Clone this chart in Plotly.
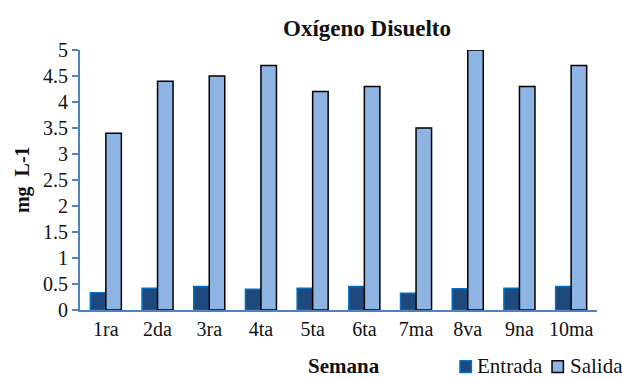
import plotly.graph_objects as go

semanas = ["1ra", "2da", "3ra", "4ta", "5ta", "6ta", "7ma", "8va", "9na", "10ma"]
entrada = [0.33, 0.42, 0.45, 0.40, 0.42, 0.45, 0.32, 0.41, 0.42, 0.45]
salida = [3.4, 4.4, 4.5, 4.7, 4.2, 4.3, 3.5, 5.0, 4.3, 4.7]

serif = "Liberation Serif"
axis_color = "#4F81BD"
text_color = "#111111"

entrada_style = dict(color="#1F497D", line=dict(color="#0070C0", width=1.5))
salida_style = dict(color="#8EB4E3", line=dict(color="#000000", width=1.5))

fig = go.Figure()
fig.add_trace(go.Bar(x=semanas, y=entrada, name="Entrada", marker=entrada_style))
fig.add_trace(go.Bar(x=semanas, y=salida, name="Salida", marker=salida_style))

# compact legend below the plot: key squares + labels
legend_y0, legend_y1, legend_mid = -0.24, -0.195, -0.217
legend_items = [
    ("Entrada", entrada_style, 0.735, 0.757, 0.764),
    ("Salida", salida_style, 0.913, 0.935, 0.944),
]
shapes = []
annotations = []
for label, style, kx0, kx1, tx in legend_items:
    shapes.append(dict(
        type="rect", xref="paper", yref="paper",
        x0=kx0, x1=kx1, y0=legend_y0, y1=legend_y1,
        fillcolor=style["color"],
        line=dict(color=style["line"]["color"], width=1.5),
    ))
    annotations.append(dict(
        text=label, xref="paper", yref="paper", x=tx, y=legend_mid,
        xanchor="left", yanchor="middle", showarrow=False,
        font=dict(family=serif, size=21, color=text_color),
    ))

annotations += [
    dict(text="<b>Oxígeno Disuelto</b>", xref="paper", yref="paper",
         x=0.555, y=1.0, yshift=22, xanchor="center", yanchor="middle",
         showarrow=False,
         font=dict(family=serif, size=23, color=text_color)),
    dict(text="<b>Semana</b>", xref="paper", yref="paper",
         x=0.51, y=legend_mid, xanchor="center", yanchor="middle",
         showarrow=False,
         font=dict(family=serif, size=21, color=text_color)),
    dict(text="<b>mg  L-1</b>", xref="paper", yref="paper",
         x=-0.112, y=0.5, xanchor="center", yanchor="middle",
         textangle=-90, showarrow=False,
         font=dict(family=serif, size=20, color=text_color)),
]

fig.update_layout(
    width=622, height=379,
    margin=dict(l=80, r=25, t=50, b=69, autoexpand=False),
    paper_bgcolor="white", plot_bgcolor="white",
    barmode="group", bargap=0.40, bargroupgap=0,
    font=dict(family=serif, size=20, color=text_color),
    showlegend=False,
    shapes=shapes,
    annotations=annotations,
)

fig.update_xaxes(
    showline=True, linecolor=axis_color, linewidth=2,
    showgrid=False, ticks="", zeroline=False,
    tickfont=dict(family=serif, size=20, color=text_color),
)
fig.update_yaxes(
    range=[0, 5], dtick=0.5, tickformat="~g",
    showline=True, linecolor=axis_color, linewidth=2,
    ticks="outside", ticklen=6, tickcolor=axis_color, tickwidth=2,
    showgrid=False, zeroline=False,
    tickfont=dict(family=serif, size=20, color=text_color),
)

fig.write_html("out.html")
